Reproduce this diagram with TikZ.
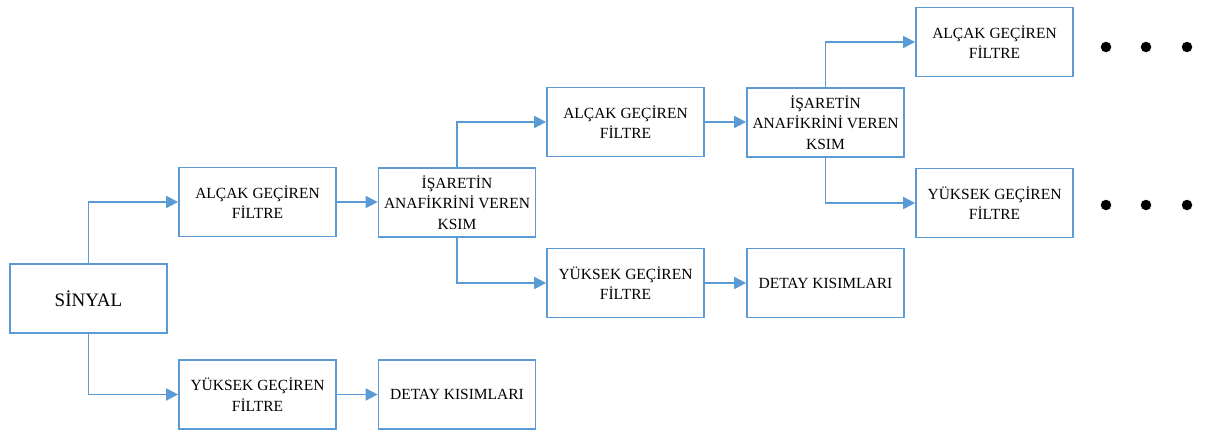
\documentclass[tikz,border=0pt]{standalone}
\usepackage{fontspec}
\setmainfont{Liberation Serif}
\usetikzlibrary{arrows.meta}
\definecolor{lineblue}{HTML}{5B9BD5}
\begin{document}
\begin{tikzpicture}[x=1pt,y=-1pt,
  box/.style={draw=lineblue,line width=1.7pt,rectangle,minimum width=157pt,minimum height=69pt,
    align=center,inner sep=2pt,font=\fontsize{15.5}{20.5}\selectfont,text=black},
  conn/.style={draw=lineblue,line width=1.8pt,-{Triangle[length=12pt,width=12pt]}},
  dot/.style={circle,fill=black,inner sep=0pt,minimum size=10.5pt}]
\useasboundingbox (0,0) rectangle (1205,431);
\node[box,font=\fontsize{19}{22}\selectfont] (sin) at (88.5,298.5) {SİNYAL};
\node[box] (a1) at (257.5,202) {ALÇAK GEÇİREN\\FİLTRE};
\node[box] (y1) at (257.5,394.5) {YÜKSEK GEÇİREN\\FİLTRE};
\node[box] (i1) at (457,202.5) {İŞARETİN\\ANAFİKRİNİ VEREN\\KSIM};
\node[box] (d1) at (457,394.5) {DETAY KISIMLARI};
\node[box] (a2) at (625.5,122) {ALÇAK GEÇİREN\\FİLTRE};
\node[box] (y2) at (625.5,283) {YÜKSEK GEÇİREN\\FİLTRE};
\node[box] (i2) at (825.5,122.5) {İŞARETİN\\ANAFİKRİNİ VEREN\\KSIM};
\node[box] (d2) at (825.5,283) {DETAY KISIMLARI};
\node[box] (a3) at (994.5,42) {ALÇAK GEÇİREN\\FİLTRE};
\node[box] (y3) at (994.5,203) {YÜKSEK GEÇİREN\\FİLTRE};
\draw[conn] (sin.north) |- (a1.west);
\draw[conn] (sin.south) |- (y1.west);
\draw[conn] (a1.east) -- (a1.east -| i1.west);
\draw[conn] (y1.east) -- (d1.west);
\draw[conn] (i1.north) |- (a2.west);
\draw[conn] (i1.south) |- (y2.west);
\draw[conn] (a2.east) -- (a2.east -| i2.west);
\draw[conn] (y2.east) -- (d2.west);
\draw[conn] (i2.north) |- (a3.west);
\draw[conn] (i2.south) |- (y3.west);
\node[dot] (p1) at (1106,47) {};
\node[dot] (p2) at (1146,47) {};
\node[dot] (p3) at (1187,47) {};
\node[dot] (q1) at (1106,205) {};
\node[dot] (q2) at (1146,205) {};
\node[dot] (q3) at (1187,205) {};
\end{tikzpicture}
\end{document}
